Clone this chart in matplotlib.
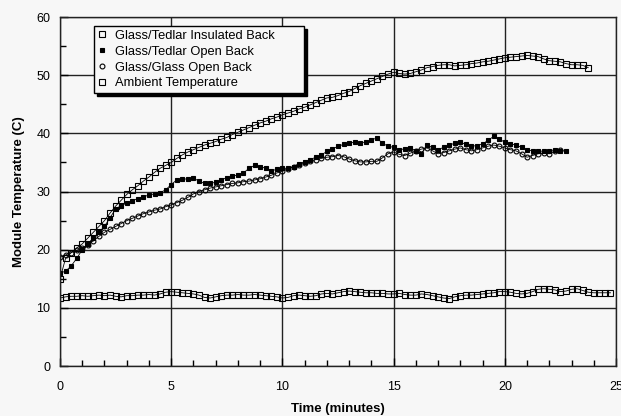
import numpy as np
import matplotlib
matplotlib.use('Agg')
import matplotlib.pyplot as plt
from matplotlib.ticker import MultipleLocator

# Temperatures (C), sampled every 0.25 minutes
insulated_back = [15.0, 18.5, 19.5, 20.3, 21.0, 22.0, 23.0, 24.0, 25.0, 26.3, 27.5, 28.5,
                  29.5, 30.3, 31.0, 31.8, 32.5, 33.3, 34.0, 34.5, 35.0, 35.7, 36.3, 36.8,
                  37.2, 37.6, 38.0, 38.3, 38.6, 39.0, 39.3, 39.8, 40.2, 40.6, 41.0, 41.4,
                  41.8, 42.1, 42.5, 42.8, 43.2, 43.5, 43.8, 44.2, 44.5, 44.9, 45.3, 45.7,
                  46.1, 46.2, 46.5, 46.9, 47.2, 47.7, 48.2, 48.6, 49.0, 49.4, 49.8, 50.2,
                  50.5, 50.3, 50.2, 50.3, 50.6, 50.9, 51.3, 51.5, 51.7, 51.8, 51.8, 51.6,
                  51.7, 51.8, 52.0, 52.1, 52.3, 52.4, 52.6, 52.8, 53.0, 53.1, 53.2, 53.3,
                  53.4, 53.3, 53.2, 52.8, 52.5, 52.4, 52.3, 52.0, 51.8, 51.8, 51.7, 51.3]

open_back = [16.0, 16.3, 17.2, 18.5, 20.0, 21.0, 22.0, 23.0, 24.0, 25.5, 27.0, 27.6,
             28.0, 28.4, 28.8, 29.1, 29.4, 29.6, 29.8, 30.3, 31.2, 32.0, 32.1, 32.2,
             32.3, 31.8, 31.4, 31.4, 31.6, 32.0, 32.4, 32.6, 32.9, 33.2, 34.0, 34.5,
             34.3, 34.0, 33.6, 33.8, 34.0, 34.0, 34.3, 34.8, 35.1, 35.5, 35.9, 36.3,
             36.9, 37.3, 37.8, 38.1, 38.3, 38.5, 38.4, 38.5, 38.9, 39.2, 38.3, 37.8,
             37.6, 37.1, 37.4, 37.5, 37.0, 36.5, 38.0, 37.6, 37.2, 37.6, 38.0, 38.3,
             38.5, 38.1, 37.8, 37.9, 38.2, 38.8, 39.5, 39.0, 38.5, 38.2, 38.0, 37.6,
             37.2, 37.0, 37.0, 36.9, 37.0, 37.2, 37.0, 37.0]

glass_glass = [18.7, 19.1, 19.5, 19.9, 20.3, 20.9, 21.5, 22.3, 23.0, 23.5, 24.0, 24.5,
               25.0, 25.4, 25.8, 26.2, 26.5, 26.8, 27.0, 27.4, 27.7, 28.1, 28.5, 29.0,
               29.6, 30.0, 30.3, 30.6, 30.8, 31.0, 31.2, 31.4, 31.5, 31.7, 31.8, 32.0,
               32.2, 32.5, 32.8, 33.2, 33.5, 33.9, 34.3, 34.6, 34.9, 35.2, 35.5, 35.7,
               35.9, 36.0, 36.2, 36.0, 35.6, 35.3, 35.1, 35.1, 35.2, 35.2, 35.8, 36.5,
               36.8, 36.4, 36.2, 36.6, 37.0, 37.3, 37.5, 37.0, 36.5, 36.7, 37.0, 37.3,
               37.5, 37.2, 37.0, 37.2, 37.5, 37.8, 38.0, 37.8, 37.5, 37.2, 37.0, 36.5,
               35.9, 36.2, 36.5, 36.6, 36.5, 36.9, 37.2]

ambient = [11.7, 11.9, 12.0, 12.0, 12.1, 12.0, 12.1, 12.2, 12.1, 12.2, 12.0, 11.9,
           12.1, 12.1, 12.2, 12.2, 12.3, 12.2, 12.4, 12.7, 12.8, 12.7, 12.6, 12.5,
           12.4, 12.2, 11.8, 11.7, 11.9, 12.1, 12.2, 12.2, 12.3, 12.2, 12.2, 12.3,
           12.2, 12.1, 12.0, 11.9, 11.7, 11.8, 12.1, 12.2, 12.1, 12.0, 12.1, 12.4,
           12.5, 12.4, 12.6, 12.8, 12.9, 12.8, 12.7, 12.6, 12.6, 12.5, 12.5, 12.4,
           12.4, 12.5, 12.3, 12.2, 12.2, 12.4, 12.3, 12.1, 11.9, 11.7, 11.6, 11.9,
           12.1, 12.2, 12.2, 12.3, 12.4, 12.5, 12.6, 12.8, 12.8, 12.7, 12.5, 12.4,
           12.5, 12.8, 13.2, 13.3, 13.2, 13.1, 12.8, 12.9, 13.2, 13.3, 13.0, 12.7,
           12.6, 12.6, 12.6, 12.6]

step = 0.25

plt.rcParams['font.family'] = ['Liberation Sans', 'DejaVu Sans']

fig = plt.figure(figsize=(6.21, 4.16), dpi=100, facecolor='#f7f7f7')
ax = fig.add_axes([0.0966, 0.12, 0.8954, 0.839])
ax.set_facecolor('#f7f7f7')

series = [
    ('Glass/Tedlar Insulated Back', insulated_back, dict(marker='s', mfc='none', ms=4)),
    ('Glass/Tedlar Open Back', open_back, dict(marker='s', mfc='black', ms=3.5)),
    ('Glass/Glass Open Back', glass_glass, dict(marker='o', mfc='none', ms=3.5)),
    ('Ambient Temperature', ambient, dict(marker='s', mfc='none', ms=4)),
]

for name, vals, style in series:
    t = np.arange(len(vals)) * step
    ax.plot(t, vals, color='black', lw=0.6, mec='black', mew=0.8, label=name, **style)

ax.set_xlim(0, 25)
ax.set_ylim(0, 60)
ax.xaxis.set_major_locator(MultipleLocator(5))
ax.xaxis.set_minor_locator(MultipleLocator(1))
ax.yaxis.set_major_locator(MultipleLocator(10))
ax.yaxis.set_minor_locator(MultipleLocator(5))
ax.grid(True, which='major', color='#222222', lw=1)
ax.tick_params(which='both', direction='in', colors='black', labelsize=9)
ax.tick_params(which='major', length=6, width=1)
ax.tick_params(which='minor', length=4, width=1)
ax.tick_params(axis='x', pad=11)
ax.tick_params(axis='y', pad=7)
for s in ax.spines.values():
    s.set_color('#222222')
    s.set_linewidth(1)

ax.set_xlabel('Time (minutes)', fontsize=9.5, fontweight='bold', labelpad=7)
ax.set_ylabel('Module Temperature (C)', fontsize=9.5, fontweight='bold', labelpad=8)

leg = ax.legend(loc='upper left', bbox_to_anchor=(0.061, 0.785, 0.378, 0.19),
                mode='expand', fontsize=9.3,
                frameon=True, fancybox=False,
                shadow={'color': 'black', 'alpha': 1.0},
                handlelength=0.6, handletextpad=0.7, borderpad=0.3,
                labelspacing=0.3, borderaxespad=0)
leg.get_frame().set_edgecolor('black')
leg.get_frame().set_linewidth(1)
leg.get_frame().set_facecolor('#f7f7f7')
for h in leg.legend_handles:
    h.set_linestyle('none')

fig.savefig('out.png', dpi=100, facecolor=fig.get_facecolor())
